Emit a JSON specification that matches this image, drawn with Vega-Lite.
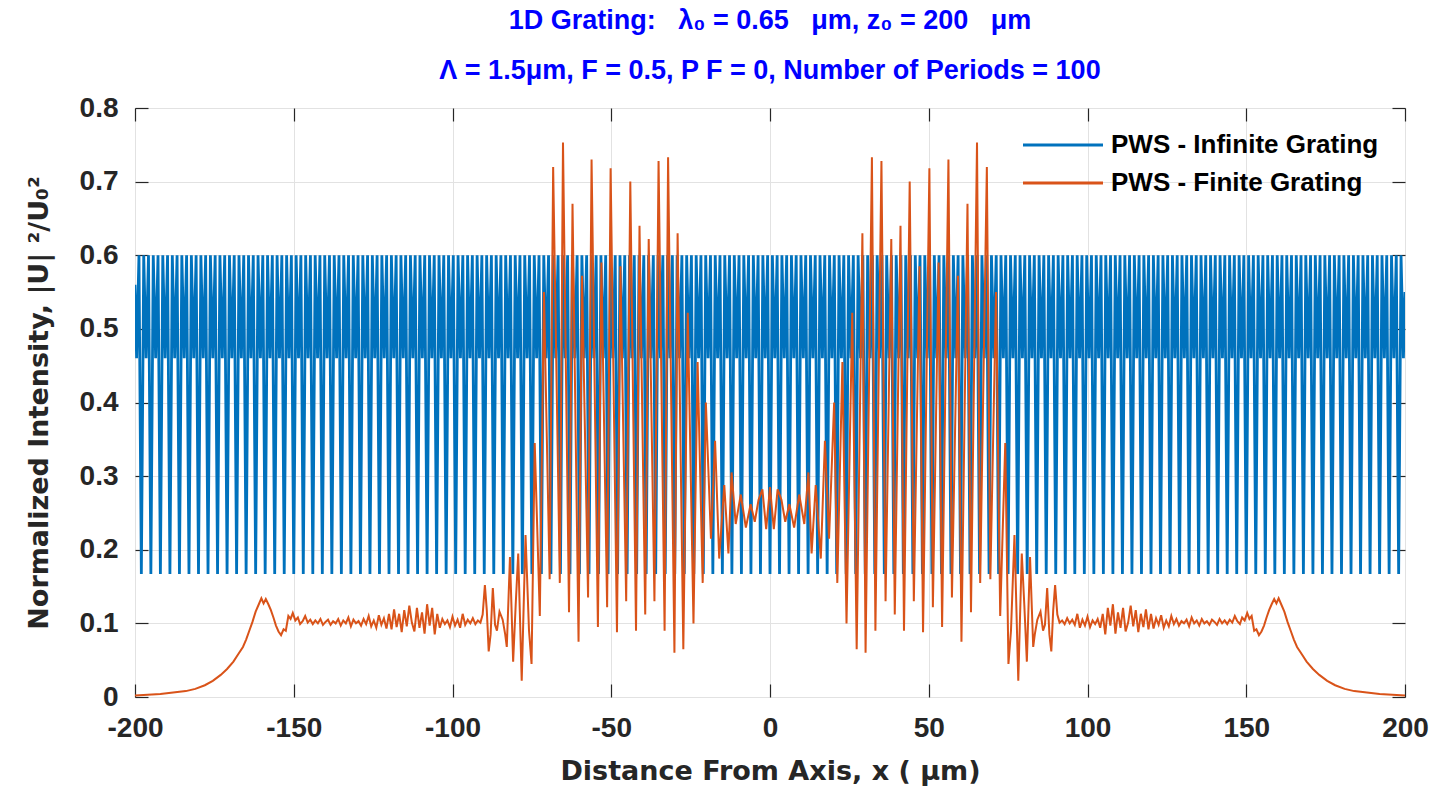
{
"$schema":"https://vega.github.io/schema/vega-lite/v6.json",
"width":1270,"height":589,
"autosize":{"type":"none"},
"padding":{"left":135,"top":108,"right":36,"bottom":98},
"background":"white",
"config":{"view":{"stroke":"#262626","strokeWidth":1},"font":"Liberation Sans"},
"title":{"text":["1D Grating: \u00a0\u00a0λ₀ = 0.65 \u00a0\u00a0μm, z₀ = 200 \u00a0\u00a0μm","Λ = 1.5μm, F = 0.5, P F = 0, Number of Periods = 100"],"color":"#0000ff","fontSize":27,"fontWeight":"bold","font":"Liberation Sans","lineHeight":50,"offset":9,"anchor":"middle"},
"datasets":{
"inf":[
{"x":-200,"y":0.56},
{"x":-199.5,"y":0.46},{"x":-198.75,"y":0.6},{"x":-198,"y":0.167},{"x":-197.25,"y":0.6},
{"x":-196.5,"y":0.46},{"x":-195.75,"y":0.6},{"x":-195,"y":0.167},{"x":-194.25,"y":0.6},
{"x":-193.5,"y":0.46},{"x":-192.75,"y":0.6},{"x":-192,"y":0.167},{"x":-191.25,"y":0.6},
{"x":-190.5,"y":0.46},{"x":-189.75,"y":0.6},{"x":-189,"y":0.167},{"x":-188.25,"y":0.6},
{"x":-187.5,"y":0.46},{"x":-186.75,"y":0.6},{"x":-186,"y":0.167},{"x":-185.25,"y":0.6},
{"x":-184.5,"y":0.46},{"x":-183.75,"y":0.6},{"x":-183,"y":0.167},{"x":-182.25,"y":0.6},
{"x":-181.5,"y":0.46},{"x":-180.75,"y":0.6},{"x":-180,"y":0.167},{"x":-179.25,"y":0.6},
{"x":-178.5,"y":0.46},{"x":-177.75,"y":0.6},{"x":-177,"y":0.167},{"x":-176.25,"y":0.6},
{"x":-175.5,"y":0.46},{"x":-174.75,"y":0.6},{"x":-174,"y":0.167},{"x":-173.25,"y":0.6},
{"x":-172.5,"y":0.46},{"x":-171.75,"y":0.6},{"x":-171,"y":0.167},{"x":-170.25,"y":0.6},
{"x":-169.5,"y":0.46},{"x":-168.75,"y":0.6},{"x":-168,"y":0.167},{"x":-167.25,"y":0.6},
{"x":-166.5,"y":0.46},{"x":-165.75,"y":0.6},{"x":-165,"y":0.167},{"x":-164.25,"y":0.6},
{"x":-163.5,"y":0.46},{"x":-162.75,"y":0.6},{"x":-162,"y":0.167},{"x":-161.25,"y":0.6},
{"x":-160.5,"y":0.46},{"x":-159.75,"y":0.6},{"x":-159,"y":0.167},{"x":-158.25,"y":0.6},
{"x":-157.5,"y":0.46},{"x":-156.75,"y":0.6},{"x":-156,"y":0.167},{"x":-155.25,"y":0.6},
{"x":-154.5,"y":0.46},{"x":-153.75,"y":0.6},{"x":-153,"y":0.167},{"x":-152.25,"y":0.6},
{"x":-151.5,"y":0.46},{"x":-150.75,"y":0.6},{"x":-150,"y":0.167},{"x":-149.25,"y":0.6},
{"x":-148.5,"y":0.46},{"x":-147.75,"y":0.6},{"x":-147,"y":0.167},{"x":-146.25,"y":0.6},
{"x":-145.5,"y":0.46},{"x":-144.75,"y":0.6},{"x":-144,"y":0.167},{"x":-143.25,"y":0.6},
{"x":-142.5,"y":0.46},{"x":-141.75,"y":0.6},{"x":-141,"y":0.167},{"x":-140.25,"y":0.6},
{"x":-139.5,"y":0.46},{"x":-138.75,"y":0.6},{"x":-138,"y":0.167},{"x":-137.25,"y":0.6},
{"x":-136.5,"y":0.46},{"x":-135.75,"y":0.6},{"x":-135,"y":0.167},{"x":-134.25,"y":0.6},
{"x":-133.5,"y":0.46},{"x":-132.75,"y":0.6},{"x":-132,"y":0.167},{"x":-131.25,"y":0.6},
{"x":-130.5,"y":0.46},{"x":-129.75,"y":0.6},{"x":-129,"y":0.167},{"x":-128.25,"y":0.6},
{"x":-127.5,"y":0.46},{"x":-126.75,"y":0.6},{"x":-126,"y":0.167},{"x":-125.25,"y":0.6},
{"x":-124.5,"y":0.46},{"x":-123.75,"y":0.6},{"x":-123,"y":0.167},{"x":-122.25,"y":0.6},
{"x":-121.5,"y":0.46},{"x":-120.75,"y":0.6},{"x":-120,"y":0.167},{"x":-119.25,"y":0.6},
{"x":-118.5,"y":0.46},{"x":-117.75,"y":0.6},{"x":-117,"y":0.167},{"x":-116.25,"y":0.6},
{"x":-115.5,"y":0.46},{"x":-114.75,"y":0.6},{"x":-114,"y":0.167},{"x":-113.25,"y":0.6},
{"x":-112.5,"y":0.46},{"x":-111.75,"y":0.6},{"x":-111,"y":0.167},{"x":-110.25,"y":0.6},
{"x":-109.5,"y":0.46},{"x":-108.75,"y":0.6},{"x":-108,"y":0.167},{"x":-107.25,"y":0.6},
{"x":-106.5,"y":0.46},{"x":-105.75,"y":0.6},{"x":-105,"y":0.167},{"x":-104.25,"y":0.6},
{"x":-103.5,"y":0.46},{"x":-102.75,"y":0.6},{"x":-102,"y":0.167},{"x":-101.25,"y":0.6},
{"x":-100.5,"y":0.46},{"x":-99.75,"y":0.6},{"x":-99,"y":0.167},{"x":-98.25,"y":0.6},
{"x":-97.5,"y":0.46},{"x":-96.75,"y":0.6},{"x":-96,"y":0.167},{"x":-95.25,"y":0.6},
{"x":-94.5,"y":0.46},{"x":-93.75,"y":0.6},{"x":-93,"y":0.167},{"x":-92.25,"y":0.6},
{"x":-91.5,"y":0.46},{"x":-90.75,"y":0.6},{"x":-90,"y":0.167},{"x":-89.25,"y":0.6},
{"x":-88.5,"y":0.46},{"x":-87.75,"y":0.6},{"x":-87,"y":0.167},{"x":-86.25,"y":0.6},
{"x":-85.5,"y":0.46},{"x":-84.75,"y":0.6},{"x":-84,"y":0.167},{"x":-83.25,"y":0.6},
{"x":-82.5,"y":0.46},{"x":-81.75,"y":0.6},{"x":-81,"y":0.167},{"x":-80.25,"y":0.6},
{"x":-79.5,"y":0.46},{"x":-78.75,"y":0.6},{"x":-78,"y":0.167},{"x":-77.25,"y":0.6},
{"x":-76.5,"y":0.46},{"x":-75.75,"y":0.6},{"x":-75,"y":0.167},{"x":-74.25,"y":0.6},
{"x":-73.5,"y":0.46},{"x":-72.75,"y":0.6},{"x":-72,"y":0.167},{"x":-71.25,"y":0.6},
{"x":-70.5,"y":0.46},{"x":-69.75,"y":0.6},{"x":-69,"y":0.167},{"x":-68.25,"y":0.6},
{"x":-67.5,"y":0.46},{"x":-66.75,"y":0.6},{"x":-66,"y":0.167},{"x":-65.25,"y":0.6},
{"x":-64.5,"y":0.46},{"x":-63.75,"y":0.6},{"x":-63,"y":0.167},{"x":-62.25,"y":0.6},
{"x":-61.5,"y":0.46},{"x":-60.75,"y":0.6},{"x":-60,"y":0.167},{"x":-59.25,"y":0.6},
{"x":-58.5,"y":0.46},{"x":-57.75,"y":0.6},{"x":-57,"y":0.167},{"x":-56.25,"y":0.6},
{"x":-55.5,"y":0.46},{"x":-54.75,"y":0.6},{"x":-54,"y":0.167},{"x":-53.25,"y":0.6},
{"x":-52.5,"y":0.46},{"x":-51.75,"y":0.6},{"x":-51,"y":0.167},{"x":-50.25,"y":0.6},
{"x":-49.5,"y":0.46},{"x":-48.75,"y":0.6},{"x":-48,"y":0.167},{"x":-47.25,"y":0.6},
{"x":-46.5,"y":0.46},{"x":-45.75,"y":0.6},{"x":-45,"y":0.167},{"x":-44.25,"y":0.6},
{"x":-43.5,"y":0.46},{"x":-42.75,"y":0.6},{"x":-42,"y":0.167},{"x":-41.25,"y":0.6},
{"x":-40.5,"y":0.46},{"x":-39.75,"y":0.6},{"x":-39,"y":0.167},{"x":-38.25,"y":0.6},
{"x":-37.5,"y":0.46},{"x":-36.75,"y":0.6},{"x":-36,"y":0.167},{"x":-35.25,"y":0.6},
{"x":-34.5,"y":0.46},{"x":-33.75,"y":0.6},{"x":-33,"y":0.167},{"x":-32.25,"y":0.6},
{"x":-31.5,"y":0.46},{"x":-30.75,"y":0.6},{"x":-30,"y":0.167},{"x":-29.25,"y":0.6},
{"x":-28.5,"y":0.46},{"x":-27.75,"y":0.6},{"x":-27,"y":0.167},{"x":-26.25,"y":0.6},
{"x":-25.5,"y":0.46},{"x":-24.75,"y":0.6},{"x":-24,"y":0.167},{"x":-23.25,"y":0.6},
{"x":-22.5,"y":0.46},{"x":-21.75,"y":0.6},{"x":-21,"y":0.167},{"x":-20.25,"y":0.6},
{"x":-19.5,"y":0.46},{"x":-18.75,"y":0.6},{"x":-18,"y":0.167},{"x":-17.25,"y":0.6},
{"x":-16.5,"y":0.46},{"x":-15.75,"y":0.6},{"x":-15,"y":0.167},{"x":-14.25,"y":0.6},
{"x":-13.5,"y":0.46},{"x":-12.75,"y":0.6},{"x":-12,"y":0.167},{"x":-11.25,"y":0.6},
{"x":-10.5,"y":0.46},{"x":-9.75,"y":0.6},{"x":-9,"y":0.167},{"x":-8.25,"y":0.6},
{"x":-7.5,"y":0.46},{"x":-6.75,"y":0.6},{"x":-6,"y":0.167},{"x":-5.25,"y":0.6},
{"x":-4.5,"y":0.46},{"x":-3.75,"y":0.6},{"x":-3,"y":0.167},{"x":-2.25,"y":0.6},
{"x":-1.5,"y":0.46},{"x":-0.75,"y":0.6},{"x":0,"y":0.167},{"x":0.75,"y":0.6},
{"x":1.5,"y":0.46},{"x":2.25,"y":0.6},{"x":3,"y":0.167},{"x":3.75,"y":0.6},
{"x":4.5,"y":0.46},{"x":5.25,"y":0.6},{"x":6,"y":0.167},{"x":6.75,"y":0.6},
{"x":7.5,"y":0.46},{"x":8.25,"y":0.6},{"x":9,"y":0.167},{"x":9.75,"y":0.6},
{"x":10.5,"y":0.46},{"x":11.25,"y":0.6},{"x":12,"y":0.167},{"x":12.75,"y":0.6},
{"x":13.5,"y":0.46},{"x":14.25,"y":0.6},{"x":15,"y":0.167},{"x":15.75,"y":0.6},
{"x":16.5,"y":0.46},{"x":17.25,"y":0.6},{"x":18,"y":0.167},{"x":18.75,"y":0.6},
{"x":19.5,"y":0.46},{"x":20.25,"y":0.6},{"x":21,"y":0.167},{"x":21.75,"y":0.6},
{"x":22.5,"y":0.46},{"x":23.25,"y":0.6},{"x":24,"y":0.167},{"x":24.75,"y":0.6},
{"x":25.5,"y":0.46},{"x":26.25,"y":0.6},{"x":27,"y":0.167},{"x":27.75,"y":0.6},
{"x":28.5,"y":0.46},{"x":29.25,"y":0.6},{"x":30,"y":0.167},{"x":30.75,"y":0.6},
{"x":31.5,"y":0.46},{"x":32.25,"y":0.6},{"x":33,"y":0.167},{"x":33.75,"y":0.6},
{"x":34.5,"y":0.46},{"x":35.25,"y":0.6},{"x":36,"y":0.167},{"x":36.75,"y":0.6},
{"x":37.5,"y":0.46},{"x":38.25,"y":0.6},{"x":39,"y":0.167},{"x":39.75,"y":0.6},
{"x":40.5,"y":0.46},{"x":41.25,"y":0.6},{"x":42,"y":0.167},{"x":42.75,"y":0.6},
{"x":43.5,"y":0.46},{"x":44.25,"y":0.6},{"x":45,"y":0.167},{"x":45.75,"y":0.6},
{"x":46.5,"y":0.46},{"x":47.25,"y":0.6},{"x":48,"y":0.167},{"x":48.75,"y":0.6},
{"x":49.5,"y":0.46},{"x":50.25,"y":0.6},{"x":51,"y":0.167},{"x":51.75,"y":0.6},
{"x":52.5,"y":0.46},{"x":53.25,"y":0.6},{"x":54,"y":0.167},{"x":54.75,"y":0.6},
{"x":55.5,"y":0.46},{"x":56.25,"y":0.6},{"x":57,"y":0.167},{"x":57.75,"y":0.6},
{"x":58.5,"y":0.46},{"x":59.25,"y":0.6},{"x":60,"y":0.167},{"x":60.75,"y":0.6},
{"x":61.5,"y":0.46},{"x":62.25,"y":0.6},{"x":63,"y":0.167},{"x":63.75,"y":0.6},
{"x":64.5,"y":0.46},{"x":65.25,"y":0.6},{"x":66,"y":0.167},{"x":66.75,"y":0.6},
{"x":67.5,"y":0.46},{"x":68.25,"y":0.6},{"x":69,"y":0.167},{"x":69.75,"y":0.6},
{"x":70.5,"y":0.46},{"x":71.25,"y":0.6},{"x":72,"y":0.167},{"x":72.75,"y":0.6},
{"x":73.5,"y":0.46},{"x":74.25,"y":0.6},{"x":75,"y":0.167},{"x":75.75,"y":0.6},
{"x":76.5,"y":0.46},{"x":77.25,"y":0.6},{"x":78,"y":0.167},{"x":78.75,"y":0.6},
{"x":79.5,"y":0.46},{"x":80.25,"y":0.6},{"x":81,"y":0.167},{"x":81.75,"y":0.6},
{"x":82.5,"y":0.46},{"x":83.25,"y":0.6},{"x":84,"y":0.167},{"x":84.75,"y":0.6},
{"x":85.5,"y":0.46},{"x":86.25,"y":0.6},{"x":87,"y":0.167},{"x":87.75,"y":0.6},
{"x":88.5,"y":0.46},{"x":89.25,"y":0.6},{"x":90,"y":0.167},{"x":90.75,"y":0.6},
{"x":91.5,"y":0.46},{"x":92.25,"y":0.6},{"x":93,"y":0.167},{"x":93.75,"y":0.6},
{"x":94.5,"y":0.46},{"x":95.25,"y":0.6},{"x":96,"y":0.167},{"x":96.75,"y":0.6},
{"x":97.5,"y":0.46},{"x":98.25,"y":0.6},{"x":99,"y":0.167},{"x":99.75,"y":0.6},
{"x":100.5,"y":0.46},{"x":101.25,"y":0.6},{"x":102,"y":0.167},{"x":102.75,"y":0.6},
{"x":103.5,"y":0.46},{"x":104.25,"y":0.6},{"x":105,"y":0.167},{"x":105.75,"y":0.6},
{"x":106.5,"y":0.46},{"x":107.25,"y":0.6},{"x":108,"y":0.167},{"x":108.75,"y":0.6},
{"x":109.5,"y":0.46},{"x":110.25,"y":0.6},{"x":111,"y":0.167},{"x":111.75,"y":0.6},
{"x":112.5,"y":0.46},{"x":113.25,"y":0.6},{"x":114,"y":0.167},{"x":114.75,"y":0.6},
{"x":115.5,"y":0.46},{"x":116.25,"y":0.6},{"x":117,"y":0.167},{"x":117.75,"y":0.6},
{"x":118.5,"y":0.46},{"x":119.25,"y":0.6},{"x":120,"y":0.167},{"x":120.75,"y":0.6},
{"x":121.5,"y":0.46},{"x":122.25,"y":0.6},{"x":123,"y":0.167},{"x":123.75,"y":0.6},
{"x":124.5,"y":0.46},{"x":125.25,"y":0.6},{"x":126,"y":0.167},{"x":126.75,"y":0.6},
{"x":127.5,"y":0.46},{"x":128.25,"y":0.6},{"x":129,"y":0.167},{"x":129.75,"y":0.6},
{"x":130.5,"y":0.46},{"x":131.25,"y":0.6},{"x":132,"y":0.167},{"x":132.75,"y":0.6},
{"x":133.5,"y":0.46},{"x":134.25,"y":0.6},{"x":135,"y":0.167},{"x":135.75,"y":0.6},
{"x":136.5,"y":0.46},{"x":137.25,"y":0.6},{"x":138,"y":0.167},{"x":138.75,"y":0.6},
{"x":139.5,"y":0.46},{"x":140.25,"y":0.6},{"x":141,"y":0.167},{"x":141.75,"y":0.6},
{"x":142.5,"y":0.46},{"x":143.25,"y":0.6},{"x":144,"y":0.167},{"x":144.75,"y":0.6},
{"x":145.5,"y":0.46},{"x":146.25,"y":0.6},{"x":147,"y":0.167},{"x":147.75,"y":0.6},
{"x":148.5,"y":0.46},{"x":149.25,"y":0.6},{"x":150,"y":0.167},{"x":150.75,"y":0.6},
{"x":151.5,"y":0.46},{"x":152.25,"y":0.6},{"x":153,"y":0.167},{"x":153.75,"y":0.6},
{"x":154.5,"y":0.46},{"x":155.25,"y":0.6},{"x":156,"y":0.167},{"x":156.75,"y":0.6},
{"x":157.5,"y":0.46},{"x":158.25,"y":0.6},{"x":159,"y":0.167},{"x":159.75,"y":0.6},
{"x":160.5,"y":0.46},{"x":161.25,"y":0.6},{"x":162,"y":0.167},{"x":162.75,"y":0.6},
{"x":163.5,"y":0.46},{"x":164.25,"y":0.6},{"x":165,"y":0.167},{"x":165.75,"y":0.6},
{"x":166.5,"y":0.46},{"x":167.25,"y":0.6},{"x":168,"y":0.167},{"x":168.75,"y":0.6},
{"x":169.5,"y":0.46},{"x":170.25,"y":0.6},{"x":171,"y":0.167},{"x":171.75,"y":0.6},
{"x":172.5,"y":0.46},{"x":173.25,"y":0.6},{"x":174,"y":0.167},{"x":174.75,"y":0.6},
{"x":175.5,"y":0.46},{"x":176.25,"y":0.6},{"x":177,"y":0.167},{"x":177.75,"y":0.6},
{"x":178.5,"y":0.46},{"x":179.25,"y":0.6},{"x":180,"y":0.167},{"x":180.75,"y":0.6},
{"x":181.5,"y":0.46},{"x":182.25,"y":0.6},{"x":183,"y":0.167},{"x":183.75,"y":0.6},
{"x":184.5,"y":0.46},{"x":185.25,"y":0.6},{"x":186,"y":0.167},{"x":186.75,"y":0.6},
{"x":187.5,"y":0.46},{"x":188.25,"y":0.6},{"x":189,"y":0.167},{"x":189.75,"y":0.6},
{"x":190.5,"y":0.46},{"x":191.25,"y":0.6},{"x":192,"y":0.167},{"x":192.75,"y":0.6},
{"x":193.5,"y":0.46},{"x":194.25,"y":0.6},{"x":195,"y":0.167},{"x":195.75,"y":0.6},
{"x":196.5,"y":0.46},{"x":197.25,"y":0.6},{"x":198,"y":0.167},{"x":198.75,"y":0.6},
{"x":199.5,"y":0.46},{"x":200,"y":0.55}
],
"fin":[
{"x":-200,"y":0.002},{"x":-196,"y":0.003},{"x":-192,"y":0.004},{"x":-188,"y":0.006},{"x":-184,"y":0.008},{"x":-181,"y":0.011},{"x":-178,"y":0.016},{"x":-175.5,"y":0.022},{"x":-173,"y":0.03},{"x":-171,"y":0.038},{"x":-169,"y":0.048},{"x":-167.5,"y":0.058},{"x":-166,"y":0.068},{"x":-165,"y":0.078},{"x":-164,"y":0.09},{"x":-163,"y":0.102},{"x":-162,"y":0.116},{"x":-161,"y":0.126},{"x":-160.2,"y":0.134},{"x":-159.5,"y":0.127},{"x":-158.8,"y":0.133},{"x":-158,"y":0.126},{"x":-157.2,"y":0.118},{"x":-156.4,"y":0.108},{"x":-155.6,"y":0.097},{"x":-154.8,"y":0.089},{"x":-154,"y":0.084},{"x":-153.2,"y":0.092},{"x":-152.5,"y":0.09},{"x":-151.7,"y":0.11},{"x":-151,"y":0.106},{"x":-150.3,"y":0.114},{"x":-149.5,"y":0.104},{"x":-148.7,"y":0.108},{"x":-148,"y":0.099},{"x":-147.2,"y":0.103},{"x":-146.4,"y":0.11},{"x":-145.6,"y":0.101},{"x":-144.8,"y":0.105},{"x":-144,"y":0.099},{"x":-143.2,"y":0.104},{"x":-142.4,"y":0.1},{"x":-141.6,"y":0.106},{"x":-140.8,"y":0.098},{"x":-140,"y":0.102},{"x":-139.2,"y":0.105},{"x":-138.4,"y":0.098},{"x":-137.6,"y":0.103},{"x":-136.8,"y":0.1},{"x":-136,"y":0.106},{"x":-135.2,"y":0.097},{"x":-134.4,"y":0.104},{"x":-133.6,"y":0.1},{"x":-132.8,"y":0.108},{"x":-132,"y":0.096},{"x":-131.2,"y":0.105},{"x":-130.4,"y":0.1},{"x":-129.6,"y":0.103},{"x":-128.8,"y":0.097},{"x":-128,"y":0.106},{"x":-127.2,"y":0.099},{"x":-126.4,"y":0.11},{"x":-125.6,"y":0.096},{"x":-124.8,"y":0.104},{"x":-124,"y":0.094},{"x":-123.2,"y":0.111},{"x":-122.4,"y":0.098},{"x":-121.6,"y":0.107},{"x":-120.8,"y":0.093},{"x":-120,"y":0.113},{"x":-119.2,"y":0.092},{"x":-118.4,"y":0.119},{"x":-117.6,"y":0.095},{"x":-116.8,"y":0.113},{"x":-116,"y":0.088},{"x":-115.2,"y":0.118},{"x":-114.4,"y":0.096},{"x":-113.6,"y":0.124},{"x":-112.8,"y":0.101},{"x":-112,"y":0.089},{"x":-111.2,"y":0.121},{"x":-110.4,"y":0.094},{"x":-109.6,"y":0.115},{"x":-108.8,"y":0.086},{"x":-108,"y":0.126},{"x":-107.2,"y":0.097},{"x":-106.4,"y":0.121},{"x":-105.6,"y":0.085},{"x":-104.8,"y":0.113},{"x":-104,"y":0.094},{"x":-103.2,"y":0.106},{"x":-102.4,"y":0.099},{"x":-101.6,"y":0.104},{"x":-100.8,"y":0.095},{"x":-100,"y":0.109},{"x":-99.2,"y":0.097},{"x":-98.4,"y":0.105},{"x":-97.6,"y":0.094},{"x":-96.8,"y":0.113},{"x":-96,"y":0.098},{"x":-95.2,"y":0.105},{"x":-94.4,"y":0.1},{"x":-93.6,"y":0.107},{"x":-92.8,"y":0.099},{"x":-92,"y":0.104},{"x":-91.2,"y":0.101},{"x":-90.5,"y":0.112},{"x":-89.8,"y":0.152},{"x":-89.2,"y":0.118},{"x":-88.6,"y":0.062},{"x":-88,"y":0.085},{"x":-87.3,"y":0.148},{"x":-86.6,"y":0.098},{"x":-86,"y":0.09},{"x":-85.2,"y":0.116},{"x":-84.2,"y":0.105},{"x":-83.4,"y":0.085},{"x":-82.9,"y":0.068},{"x":-81.9,"y":0.19},{"x":-80.9,"y":0.048},{"x":-80.1,"y":0.125},{"x":-79.3,"y":0.195},{"x":-78.2,"y":0.022},{"x":-77,"y":0.22},{"x":-75.9,"y":0.09},{"x":-75.1,"y":0.045},{"x":-74.1,"y":0.345},{"x":-72.5,"y":0.11},{"x":-71.2,"y":0.55},{"x":-69.4,"y":0.16},{"x":-68.3,"y":0.72},{"x":-66.2,"y":0.155},{"x":-65.2,"y":0.753},{"x":-63.3,"y":0.115},{"x":-62.2,"y":0.67},{"x":-60.3,"y":0.075},{"x":-59.2,"y":0.572},{"x":-57.3,"y":0.135},{"x":-56.2,"y":0.73},{"x":-54.2,"y":0.095},{"x":-53.1,"y":0.59},{"x":-51.3,"y":0.122},{"x":-50.2,"y":0.718},{"x":-48.2,"y":0.088},{"x":-47.1,"y":0.585},{"x":-45.3,"y":0.13},{"x":-44,"y":0.7},{"x":-42.2,"y":0.09},{"x":-41.1,"y":0.64},{"x":-39.3,"y":0.112},{"x":-38.2,"y":0.622},{"x":-36.4,"y":0.13},{"x":-35.1,"y":0.728},{"x":-33.2,"y":0.09},{"x":-32.1,"y":0.733},{"x":-30.1,"y":0.06},{"x":-29.1,"y":0.63},{"x":-27.3,"y":0.065},{"x":-25.9,"y":0.522},{"x":-24.1,"y":0.1},{"x":-22.8,"y":0.455},{"x":-21.2,"y":0.155},{"x":-20.2,"y":0.4},{"x":-18.6,"y":0.215},{"x":-17.3,"y":0.348},{"x":-16,"y":0.188},{"x":-14.4,"y":0.288},{"x":-13.1,"y":0.195},{"x":-12.1,"y":0.305},{"x":-10.8,"y":0.235},{"x":-9.2,"y":0.275},{"x":-7.6,"y":0.23},{"x":-6.1,"y":0.262},{"x":-4.8,"y":0.238},{"x":-3.6,"y":0.268},{"x":-2.4,"y":0.282},{"x":-1.2,"y":0.228},{"x":0,"y":0.285},
{"x":1.2,"y":0.228},{"x":2.4,"y":0.282},{"x":3.6,"y":0.268},{"x":4.8,"y":0.238},{"x":6.1,"y":0.262},{"x":7.6,"y":0.23},{"x":9.2,"y":0.275},{"x":10.8,"y":0.235},{"x":12.1,"y":0.305},{"x":13.1,"y":0.195},{"x":14.4,"y":0.288},{"x":16,"y":0.188},{"x":17.3,"y":0.348},{"x":18.6,"y":0.215},{"x":20.2,"y":0.4},{"x":21.2,"y":0.155},{"x":22.8,"y":0.455},{"x":24.1,"y":0.1},{"x":25.9,"y":0.522},{"x":27.3,"y":0.065},{"x":29.1,"y":0.63},{"x":30.1,"y":0.06},{"x":32.1,"y":0.733},{"x":33.2,"y":0.09},{"x":35.1,"y":0.728},{"x":36.4,"y":0.13},{"x":38.2,"y":0.622},{"x":39.3,"y":0.112},{"x":41.1,"y":0.64},{"x":42.2,"y":0.09},{"x":44,"y":0.7},{"x":45.3,"y":0.13},{"x":47.1,"y":0.585},{"x":48.2,"y":0.088},{"x":50.2,"y":0.718},{"x":51.3,"y":0.122},{"x":53.1,"y":0.59},{"x":54.2,"y":0.095},{"x":56.2,"y":0.73},{"x":57.3,"y":0.135},{"x":59.2,"y":0.572},{"x":60.3,"y":0.075},{"x":62.2,"y":0.67},{"x":63.3,"y":0.115},{"x":65.2,"y":0.753},{"x":66.2,"y":0.155},{"x":68.3,"y":0.72},{"x":69.4,"y":0.16},{"x":71.2,"y":0.55},{"x":72.5,"y":0.11},{"x":74.1,"y":0.345},{"x":75.1,"y":0.045},{"x":75.9,"y":0.09},{"x":77,"y":0.22},{"x":78.2,"y":0.022},{"x":79.3,"y":0.195},{"x":80.1,"y":0.125},{"x":80.9,"y":0.048},{"x":81.9,"y":0.19},{"x":82.9,"y":0.068},{"x":83.4,"y":0.085},{"x":84.2,"y":0.105},{"x":85.2,"y":0.116},{"x":86,"y":0.09},{"x":86.6,"y":0.098},{"x":87.3,"y":0.148},{"x":88,"y":0.085},{"x":88.6,"y":0.062},{"x":89.2,"y":0.118},{"x":89.8,"y":0.152},{"x":90.5,"y":0.112},{"x":91.2,"y":0.101},{"x":92,"y":0.104},{"x":92.8,"y":0.099},{"x":93.6,"y":0.107},{"x":94.4,"y":0.1},{"x":95.2,"y":0.105},{"x":96,"y":0.098},{"x":96.8,"y":0.113},{"x":97.6,"y":0.094},{"x":98.4,"y":0.105},{"x":99.2,"y":0.097},{"x":100,"y":0.109},{"x":100.8,"y":0.095},{"x":101.6,"y":0.104},{"x":102.4,"y":0.099},{"x":103.2,"y":0.106},{"x":104,"y":0.094},{"x":104.8,"y":0.113},{"x":105.6,"y":0.085},{"x":106.4,"y":0.121},{"x":107.2,"y":0.097},{"x":108,"y":0.126},{"x":108.8,"y":0.086},{"x":109.6,"y":0.115},{"x":110.4,"y":0.094},{"x":111.2,"y":0.121},{"x":112,"y":0.089},{"x":112.8,"y":0.101},{"x":113.6,"y":0.124},{"x":114.4,"y":0.096},{"x":115.2,"y":0.118},{"x":116,"y":0.088},{"x":116.8,"y":0.113},{"x":117.6,"y":0.095},{"x":118.4,"y":0.119},{"x":119.2,"y":0.092},{"x":120,"y":0.113},{"x":120.8,"y":0.093},{"x":121.6,"y":0.107},{"x":122.4,"y":0.098},{"x":123.2,"y":0.111},{"x":124,"y":0.094},{"x":124.8,"y":0.104},{"x":125.6,"y":0.096},{"x":126.4,"y":0.11},{"x":127.2,"y":0.099},{"x":128,"y":0.106},{"x":128.8,"y":0.097},{"x":129.6,"y":0.103},{"x":130.4,"y":0.1},{"x":131.2,"y":0.105},{"x":132,"y":0.096},{"x":132.8,"y":0.108},{"x":133.6,"y":0.1},{"x":134.4,"y":0.104},{"x":135.2,"y":0.097},{"x":136,"y":0.106},{"x":136.8,"y":0.1},{"x":137.6,"y":0.103},{"x":138.4,"y":0.098},{"x":139.2,"y":0.105},{"x":140,"y":0.102},{"x":140.8,"y":0.098},{"x":141.6,"y":0.106},{"x":142.4,"y":0.1},{"x":143.2,"y":0.104},{"x":144,"y":0.099},{"x":144.8,"y":0.105},{"x":145.6,"y":0.101},{"x":146.4,"y":0.11},{"x":147.2,"y":0.103},{"x":148,"y":0.099},{"x":148.7,"y":0.108},{"x":149.5,"y":0.104},{"x":150.3,"y":0.114},{"x":151,"y":0.106},{"x":151.7,"y":0.11},{"x":152.5,"y":0.09},{"x":153.2,"y":0.092},{"x":154,"y":0.084},{"x":154.8,"y":0.089},{"x":155.6,"y":0.097},{"x":156.4,"y":0.108},{"x":157.2,"y":0.118},{"x":158,"y":0.126},{"x":158.8,"y":0.133},{"x":159.5,"y":0.127},{"x":160.2,"y":0.134},{"x":161,"y":0.126},{"x":162,"y":0.116},{"x":163,"y":0.102},{"x":164,"y":0.09},{"x":165,"y":0.078},{"x":166,"y":0.068},{"x":167.5,"y":0.058},{"x":169,"y":0.048},{"x":171,"y":0.038},{"x":173,"y":0.03},{"x":175.5,"y":0.022},{"x":178,"y":0.016},{"x":181,"y":0.011},{"x":184,"y":0.008},{"x":188,"y":0.006},{"x":192,"y":0.004},{"x":196,"y":0.003},{"x":200,"y":0.002}
]
},
"layer":[
{"data":{"name":"inf"},
 "mark":{"type":"line","strokeWidth":2.8,"clip":true},
 "encoding":{
  "x":{"field":"x","type":"quantitative","scale":{"domain":[-200,200],"nice":false,"zero":false},
   "axis":{"orient":"bottom","values":[-200,-150,-100,-50,0,50,100,150,200],"labelExpr":"'' + datum.value","labelFlush":false,"grid":true,"gridColor":"#e2e2e2","gridWidth":1,"domain":false,"tickSize":-13,"tickColor":"#262626","tickWidth":1.2,"labelFont":"Liberation Sans","labelFontSize":28,"labelFontWeight":"bold","labelColor":"#262626","labelPadding":30,"title":"Distance From Axis, x ( μm)","titleFont":"DejaVu Sans","titleFontSize":27,"titleFontWeight":"bold","titleColor":"#262626","titlePadding":16}},
  "y":{"field":"y","type":"quantitative","scale":{"domain":[0,0.8],"nice":false},
   "axis":{"orient":"left","values":[0,0.1,0.2,0.3,0.4,0.5,0.6,0.7,0.8],"labelExpr":"datum.value == 0 ? '0' : format(datum.value, '.1f')","grid":true,"gridColor":"#e2e2e2","gridWidth":1,"domain":false,"tickSize":-13,"tickColor":"#262626","tickWidth":1.2,"labelFont":"Liberation Sans","labelFontSize":28,"labelFontWeight":"bold","labelColor":"#262626","labelPadding":30,"title":"Normalized Intensity, |U| ²/U₀²","titleFont":"DejaVu Sans","titleFontSize":27,"titleFontWeight":"bold","titleColor":"#262626","titlePadding":26}},
  "color":{"datum":"PWS - Infinite Grating","type":"nominal","scale":{"domain":["PWS - Infinite Grating","PWS - Finite Grating"],"range":["#0072BD","#D95319"]},
   "legend":{"orient":"none","legendX":915,"legendY":24,"title":null,"symbolType":"M-4,0H4","symbolSize":400,"symbolStrokeWidth":3,"labelFont":"Liberation Sans","labelFontSize":26,"labelFontWeight":"bold","labelColor":"#000000","labelLimit":500,"rowPadding":12,"labelOffset":35,"padding":0}}
 }},
{"data":{"name":"fin"},
 "mark":{"type":"line","strokeWidth":2,"clip":true},
 "encoding":{
  "x":{"field":"x","type":"quantitative","axis":{"orient":"top","values":[-200,-150,-100,-50,0,50,100,150,200],"grid":false,"labels":false,"domain":false,"tickSize":-13,"tickColor":"#262626","tickWidth":1.2,"title":null}},
  "y":{"field":"y","type":"quantitative","axis":{"orient":"right","values":[0,0.1,0.2,0.3,0.4,0.5,0.6,0.7,0.8],"grid":false,"labels":false,"domain":false,"tickSize":-13,"tickColor":"#262626","tickWidth":1.2,"title":null}},
  "color":{"datum":"PWS - Finite Grating","type":"nominal"}
 }}
],
"resolve":{"axis":{"x":"independent","y":"independent"}}
}
